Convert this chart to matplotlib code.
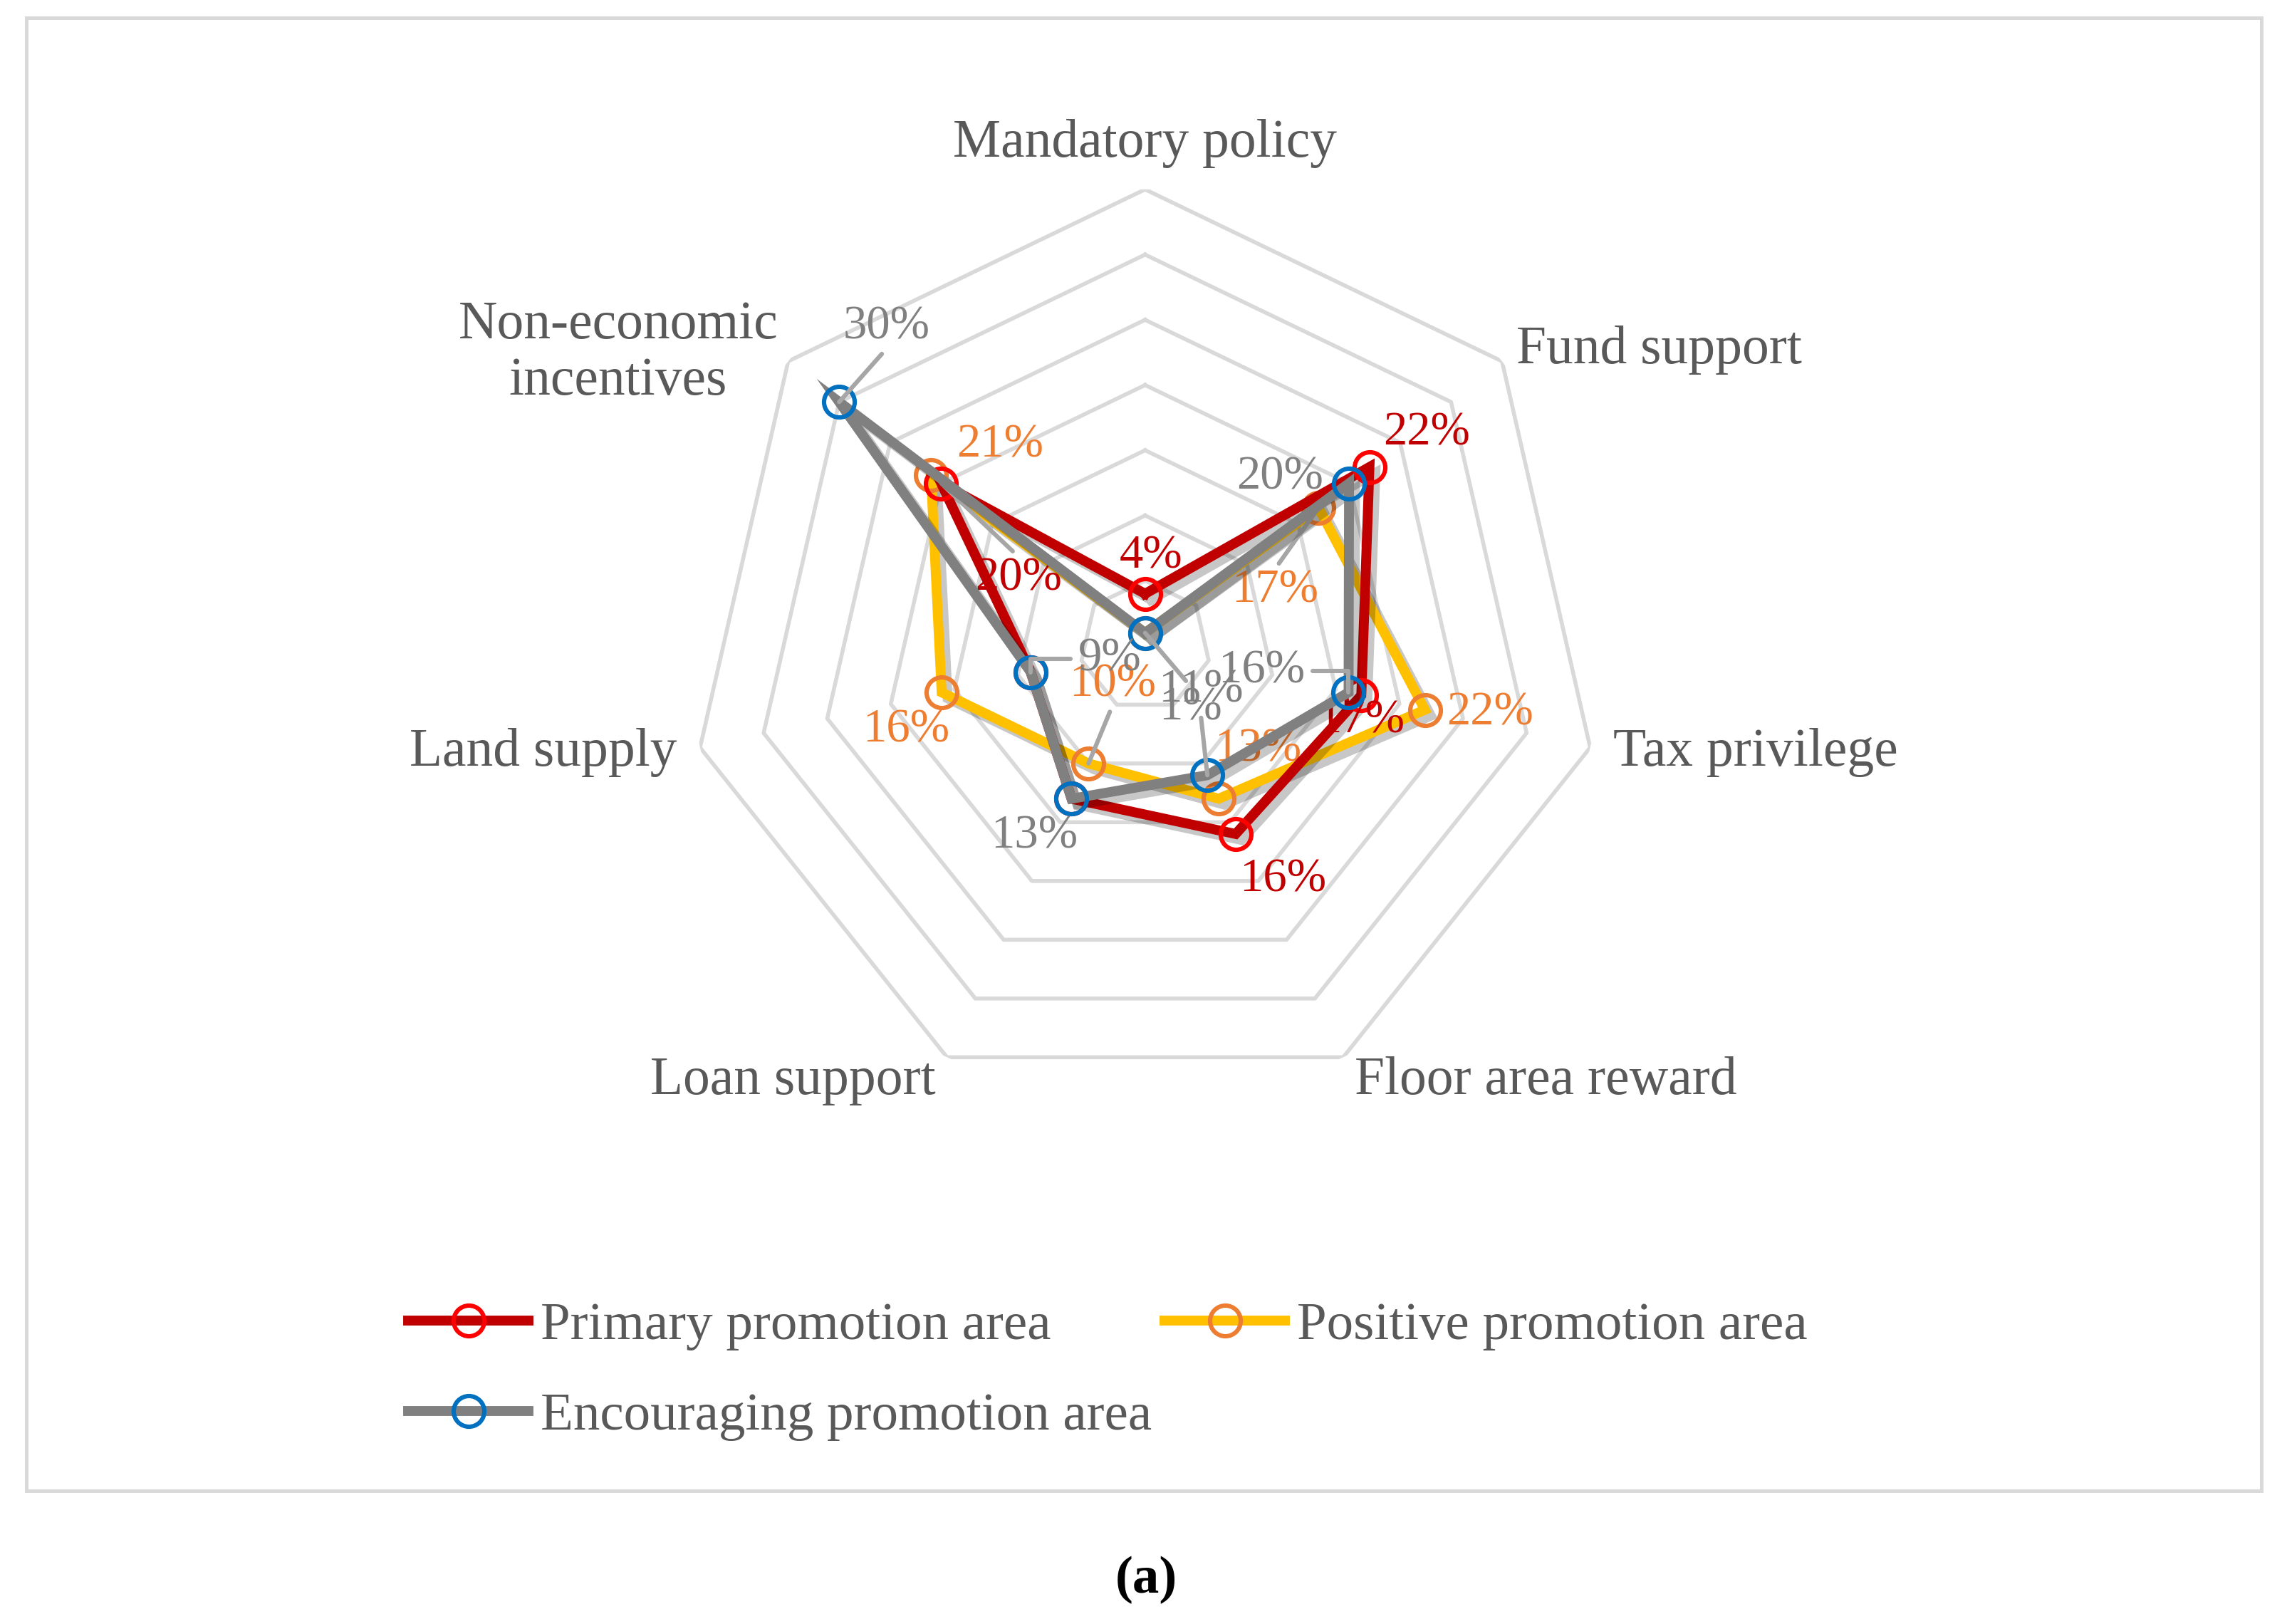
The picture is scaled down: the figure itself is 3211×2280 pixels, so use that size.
import numpy as np
import matplotlib.pyplot as plt
from matplotlib.lines import Line2D
from matplotlib.patches import Rectangle
import matplotlib.patheffects as pe

plt.rcParams['font.family'] = ['Liberation Serif', 'DejaVu Serif']

# data (shares per policy, clockwise from top)
categories = ['Mandatory policy', 'Fund support', 'Tax privilege', 'Floor area reward',
              'Loan support', 'Land supply', 'Non-economic\nincentives']
primary = [0.04, 0.22, 0.17, 0.16, 0.13, 0.09, 0.20]
positive = [0.01, 0.17, 0.22, 0.13, 0.10, 0.16, 0.21]
encouraging = [0.01, 0.20, 0.16, 0.11, 0.13, 0.09, 0.30]
series_names = ['Primary promotion area', 'Positive promotion area', 'Encouraging promotion area']
ring_levels = [0.05, 0.10, 0.15, 0.20, 0.25, 0.30, 0.35]

# label offsets in points (dx, dy, leader); None = label hidden in the original
red_lbl = [(3, 19, None), (29, 17, None), (0, -13, None), (24, -23, None), None, None, (39, -48, 'top')]
orange_lbl = [None, (-22, -42, 'top'), (33, -1.5, None), (20, 25, None), (12, 40, 'bottom'),
              (-18, -19, None), (35, 15, None)]
gray_lbl = [(23, -38, 'top'), (-35, 3, None), (-44, 11, 'right'), (-3.5, 43, 'bottom'),
            (-19, -19, None), (40, 6.5, 'left'), (24, 38, 'bottom')]

text_col = '#595959'
grid_col = '#D9D9D9'
lead_col = '#A6A6A6'

fig = plt.figure(figsize=(16.06, 11.4), dpi=200)
ax = fig.add_axes([0.301, 0.3211, 0.3991, 0.5623], projection='polar')
ax.set_theta_zero_location('N')
ax.set_theta_direction(-1)
ax.set_ylim(0, 0.35)
ax.grid(False)
ax.set_xticks([])
ax.set_yticks([])
ax.spines['polar'].set_visible(False)
ax.patch.set_visible(False)

n = len(categories)
angles = np.linspace(0, 2 * np.pi, n, endpoint=False)
closed = np.append(angles, angles[0])

for lev in ring_levels:
    ax.plot(closed, [lev] * (n + 1), color=grid_col, lw=2.0, zorder=1)

shadow = [pe.SimpleLineShadow(offset=(3, -3), shadow_color='black', alpha=0.22), pe.Normal()]

series = [
    (positive, '#FFC000', '#ED7D31', '#ED7D31', orange_lbl, 2),
    (primary, '#C00000', '#FF0000', '#C00000', red_lbl, 3),
    (encouraging, '#808080', '#0070C0', '#808080', gray_lbl, 4),
]

for vals, lc, mc, tc, lbls, z in series:
    v = np.append(vals, vals[0])
    ax.plot(closed, v, color=lc, lw=5.0, zorder=z, path_effects=shadow, solid_joinstyle='miter')
    ax.plot(angles, vals, ls='none', marker='o', ms=15.5, mfc='none', mec=mc, mew=2.2, zorder=z + 0.1)
    for i, lb in enumerate(lbls):
        if lb is None:
            continue
        dx, dy, lead = lb
        kw = dict(xy=(angles[i], vals[i]), xytext=(dx, dy), textcoords='offset points',
                  ha='center', va='center', fontsize=24, color=tc, zorder=z + 0.5)
        if lead == 'top':
            kw['arrowprops'] = dict(arrowstyle='-', color=lead_col, lw=2.2, relpos=(0.5, 1.0),
                                    shrinkA=1, shrinkB=0)
        elif lead == 'bottom':
            kw['arrowprops'] = dict(arrowstyle='-', color=lead_col, lw=2.2, relpos=(0.5, 0.0),
                                    shrinkA=1, shrinkB=0)
        elif lead == 'right':
            kw['arrowprops'] = dict(arrowstyle='-', color=lead_col, lw=2.2, relpos=(1.0, 0.5),
                                    shrinkA=2, shrinkB=0,
                                    connectionstyle='angle,angleA=0,angleB=90,rad=0')
        elif lead == 'left':
            kw['arrowprops'] = dict(arrowstyle='-', color=lead_col, lw=2.2, relpos=(0.0, 0.5),
                                    shrinkA=2, shrinkB=0,
                                    connectionstyle='angle,angleA=0,angleB=90,rad=0')
        ax.annotate('{:.0%}'.format(vals[i]), **kw)

# category labels
cat_pos = [(0.385, 'center', 'center'), (0.364, 'left', 'center'), (0.368, 'left', 'center'),
           (0.37, 'left', 'center'), (0.37, 'right', 'center'), (0.368, 'right', 'center'),
           (0.36, 'right', 'center')]
for i, (r, ha, va) in enumerate(cat_pos):
    ax.text(angles[i], r, categories[i], ha=ha, va=va, fontsize=27.2, color=text_col,
            multialignment='center', linespacing=1.2)

# legend (row-major order like the original)
handles = [
    Line2D([], [], color='#C00000', lw=5.0, marker='o', ms=15.5, mfc='none', mec='#FF0000', mew=2.2),
    Line2D([], [], color='#808080', lw=5.0, marker='o', ms=15.5, mfc='none', mec='#0070C0', mew=2.2),
    Line2D([], [], color='#FFC000', lw=5.0, marker='o', ms=15.5, mfc='none', mec='#ED7D31', mew=2.2),
]
labels = [series_names[0], series_names[2], series_names[1]]
leg = fig.legend(handles, labels, loc='upper left', bbox_to_anchor=(0.1785, 0.1985), ncol=2,
                 frameon=False, fontsize=27, handlelength=2.25, handletextpad=0.22,
                 columnspacing=0.25, labelspacing=0.78, borderpad=0, borderaxespad=0)
for t in leg.get_texts():
    t.set_color(text_col)

# outer chart border
fig.patches.append(Rectangle((0.0115, 0.082), 0.977, 0.907, transform=fig.transFigure,
                             fill=False, edgecolor=grid_col, lw=1.8))

fig.text(0.501, 0.027, '(a)', ha='center', va='center', fontsize=27, fontweight='bold', color='black')

fig.savefig('out.png', dpi=200)
